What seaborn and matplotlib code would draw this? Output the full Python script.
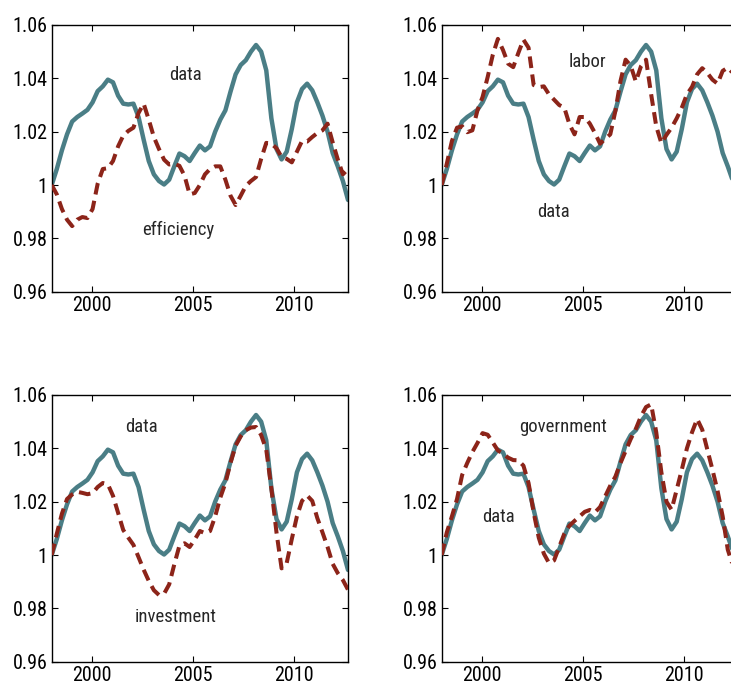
import numpy as np
import pandas as pd
import matplotlib
matplotlib.use("Agg")
import matplotlib.pyplot as plt
from matplotlib import font_manager
from matplotlib.ticker import FuncFormatter
import seaborn as sns

# ---------------- data ----------------
dates = np.linspace(1998.0, 2012 + 8 / 12, 59)

data = [1.000, 1.006, 1.013, 1.019, 1.0238, 1.0255, 1.0268, 1.0282, 1.031, 1.0352,
        1.037, 1.0395, 1.0385, 1.0335, 1.0305, 1.0302, 1.0305, 1.0255, 1.017, 1.009,
        1.004, 1.0015, 1.0002, 1.002, 1.007, 1.0118, 1.0108, 1.009, 1.012, 1.0148,
        1.013, 1.0145, 1.020, 1.0245, 1.028, 1.035, 1.0415, 1.045, 1.0468, 1.050,
        1.0525, 1.050, 1.043, 1.025, 1.0135, 1.0096, 1.0125, 1.021, 1.031, 1.036,
        1.038, 1.0355, 1.031, 1.026, 1.020, 1.012, 1.007, 1.0015, 0.9944]

efficiency = [1.000, 0.9965, 0.991, 0.987, 0.9846, 0.987, 0.988, 0.9876, 0.991, 1.0005,
              1.006, 1.0063, 1.009, 1.0145, 1.0185, 1.0203, 1.0215, 1.027, 1.0305, 1.0245,
              1.018, 1.0135, 1.0095, 1.0077, 1.008, 1.0072, 1.0035, 0.9965, 0.997, 1.000,
              1.004, 1.006, 1.007, 1.007, 1.002, 0.996, 0.9925, 0.996, 0.9997, 1.0015,
              1.003, 1.0098, 1.0158, 1.0155, 1.0138, 1.0105, 1.0098, 1.0085, 1.0125, 1.0165,
              1.0163, 1.018, 1.0195, 1.0205, 1.023, 1.016, 1.0096, 1.004, 1.006]

labor = [1.000, 1.008, 1.0165, 1.0215, 1.022, 1.0198, 1.0205, 1.028, 1.033, 1.0405,
         1.0488, 1.0548, 1.0506, 1.0455, 1.0442, 1.0495, 1.0545, 1.0515, 1.0375, 1.0367,
         1.037, 1.034, 1.032, 1.030, 1.029, 1.0228, 1.019, 1.0255, 1.0255, 1.023,
         1.0195, 1.0155, 1.0173, 1.019, 1.0278, 1.039, 1.047, 1.0447, 1.0388, 1.0445,
         1.047, 1.034, 1.022, 1.0157, 1.0188, 1.0215, 1.025, 1.029, 1.034, 1.0368,
         1.0415, 1.0438, 1.042, 1.0395, 1.038, 1.0428, 1.044, 1.042, 1.040]

investment = [1.000, 1.008, 1.0155, 1.021, 1.0227, 1.0237, 1.0233, 1.0228, 1.0232, 1.0255,
              1.027, 1.0265, 1.0222, 1.0158, 1.0094, 1.0065, 1.0038, 0.9992, 0.9945, 0.9903,
              0.9868, 0.985, 0.9855, 0.989, 0.9965, 1.0035, 1.0044, 1.003, 1.0058, 1.009,
              1.0082, 1.009, 1.0145, 1.0215, 1.027, 1.0345, 1.041, 1.0445, 1.0468, 1.0478,
              1.048, 1.045, 1.0395, 1.025, 1.0085, 0.995, 0.997, 1.006, 1.0145, 1.0203,
              1.0223, 1.0203, 1.0138, 1.0085, 1.003, 0.9967, 0.9932, 0.9906, 0.987]

government = [1.000, 1.0085, 1.0145, 1.021, 1.030, 1.0345, 1.0386, 1.042, 1.0457, 1.0451,
              1.0422, 1.0392, 1.038, 1.0365, 1.0356, 1.0355, 1.0335, 1.027, 1.016, 1.0065,
              1.0005, 0.997, 0.998, 1.003, 1.008, 1.011, 1.0128, 1.0145, 1.0162, 1.0169,
              1.016, 1.018, 1.022, 1.026, 1.0294, 1.0345, 1.039, 1.0435, 1.0473, 1.052,
              1.0555, 1.0565, 1.046, 1.031, 1.020, 1.017, 1.0245, 1.032, 1.040, 1.046,
              1.051, 1.047, 1.0395, 1.032, 1.024, 1.0145, 1.002, 0.996, 0.992]

panel_names = ["efficiency", "labor", "investment", "government"]
panel_series = [efficiency, labor, investment, government]
data_label_pos = [(2004.6, 1.0413), (2003.55, 0.990), (2002.45, 1.0481), (2000.8, 1.0144)]
name_label_pos = [(2004.25, 0.9831), (2005.2, 1.0463), (2004.15, 0.9769), (2004.0, 1.0479)]

x_ticks = [2000, 2005, 2010]
y_ticks = [0.96, 0.98, 1.00, 1.02, 1.04, 1.06]

# ---------------- style ----------------
sns.set_style("white")

narrow = None
for fam in ["Liberation Sans Narrow", "Arial Narrow", "Roboto Condensed"]:
    try:
        font_manager.findfont(font_manager.FontProperties(family=fam),
                              fallback_to_default=False)
        narrow = fam
        break
    except Exception:
        pass
if narrow is not None:
    plt.rcParams["font.family"] = [narrow, "DejaVu Sans"]
    tick_size, label_size = 14.5, 13.5
else:
    plt.rcParams["font.family"] = ["Liberation Sans", "DejaVu Sans"]
    tick_size, label_size = 12.5, 11.5

teal = "#4a7e86"
red = "#8c2419"

W, H = 731, 688
fig = plt.figure(figsize=(W / 100, H / 100), dpi=100)

ax_w = 296.3 / W
ax_h = 266.7 / H
lefts = [51.7 / W, 441.7 / W]
bottoms = [(H - 291.7) / H, (H - 661.7) / H]

for k in range(4):
    r, c = divmod(k, 2)
    ax = fig.add_axes([lefts[c], bottoms[r], ax_w, ax_h])
    df = pd.DataFrame({"date": dates, "data": data, "model": panel_series[k]})
    sns.lineplot(data=df, x="date", y="data", ax=ax, color=teal, lw=3.2,
                 solid_capstyle="round", solid_joinstyle="round", zorder=2)
    sns.lineplot(data=df, x="date", y="model", ax=ax, color=red, lw=2.9,
                 zorder=3)
    ax.lines[-1].set_dashes((2.9, 1.6))
    ax.lines[-1].set_dash_capstyle("butt")

    ax.set_xlim(1998.0, 2012 + 8 / 12)
    ax.set_ylim(0.96, 1.06)
    ax.set_xticks(x_ticks)
    ax.set_yticks(y_ticks)
    ax.yaxis.set_major_formatter(FuncFormatter(lambda v, p: "%g" % round(v, 4)))
    ax.set_xlabel("")
    ax.set_ylabel("")
    ax.tick_params(direction="in", length=4, width=0.8, top=True, right=True,
                   bottom=True, left=True, labelsize=tick_size, pad=3, colors="black")
    for sp in ax.spines.values():
        sp.set_visible(True)
        sp.set_color("black")
        sp.set_linewidth(1.0)

    ax.text(*data_label_pos[k], "data", ha="center", va="center", fontsize=label_size)
    ax.text(*name_label_pos[k], panel_names[k], ha="center", va="center",
            fontsize=label_size)

fig.savefig("out.png", dpi=100)
